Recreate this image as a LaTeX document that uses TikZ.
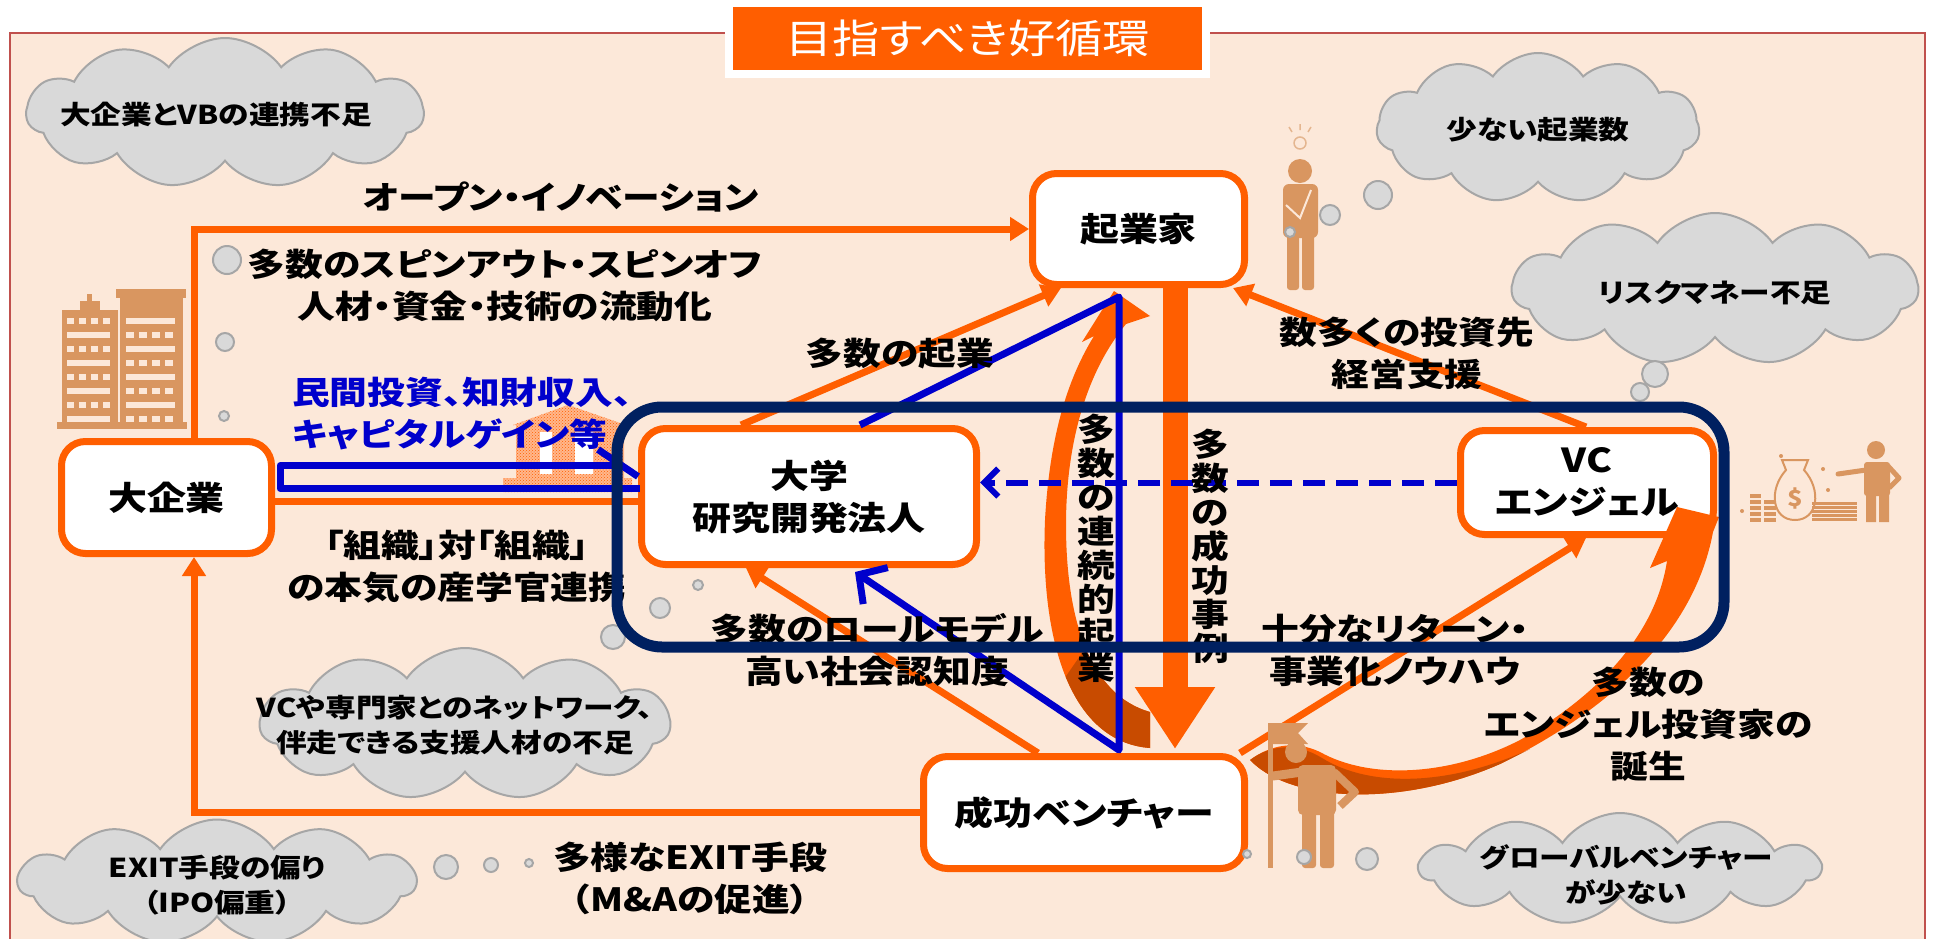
\documentclass[tikz,border=0pt]{standalone}
\usepackage{fontspec}
\setmainfont{Noto Sans CJK JP}[FakeStretch=1.18,RawFeature=+palt]
\usetikzlibrary{arrows.meta,calc,shapes.symbols,patterns}

\definecolor{peach}{RGB}{252,232,217}
\definecolor{framered}{RGB}{192,80,77}
\definecolor{vcorange}{RGB}{255,94,0}
\definecolor{arrowshade}{RGB}{200,75,0}
\definecolor{navyline}{RGB}{0,32,96}
\definecolor{linkblue}{RGB}{0,0,204}
\definecolor{icontan}{RGB}{217,150,96}
\definecolor{cloudfill}{RGB}{217,217,217}
\definecolor{cloudline}{RGB}{166,166,166}

\newcommand{\ttlfont}{\fontsize{40}{48}\selectfont}
\newcommand{\stgfont}{\bfseries\fontsize{33}{42}\selectfont}
\newcommand{\lblfont}{\bfseries\fontsize{32}{42}\selectfont}
\newcommand{\cldfont}{\bfseries\fontsize{26}{35}\selectfont}
\newcommand{\vrtfont}{\bfseries\fontsize{32}{34}\selectfont}

\tikzset{
	stagebox/.style={draw=vcorange, line width=7pt, fill=white, rounded corners=24pt, font=\stgfont, align=center, inner sep=0pt},
	labeltext/.style={font=\lblfont, align=center, inner sep=0pt},
	worrycloud/.style={cloud, cloud puffs=11, cloud puff arc=110, cloud ignores aspect, draw=cloudline, fill=cloudfill, line width=2pt, inner sep=0pt},
	worrytext/.style={font=\cldfont, align=center, inner sep=0pt},
	thoughtdot/.style={circle, draw=cloudline, fill=cloudfill, line width=2pt, inner sep=0pt},
	orangelink/.style={draw=vcorange, line width=7pt, -{Triangle[length=19pt,width=23pt]}},
	bluelink/.style={draw=linkblue, line width=7pt, line join=round},
}

\begin{document}
\begin{tikzpicture}[x=1pt, y=-1pt]
\useasboundingbox (0, 0) rectangle (1935, 938);
\fill [white] (0, 0) rectangle (1935, 938);
\filldraw [fill=peach, draw=framered, line width=2pt] (10, 33) rectangle (1925, 960);
\node [fill=vcorange, draw=white, line width=8pt, text=white, font=\ttlfont, minimum width=477, minimum height=71, inner sep=0pt] (TTL) at (967.5, 38.5) {目指すべき好循環};

\fill [icontan] (62, 310) rectangle (118, 427);
\fill [icontan] (80, 301) rectangle (100, 311);
\fill [icontan] (87, 294) rectangle (92, 302);
\fill [icontan] (120, 296) rectangle (183, 427);
\fill [icontan] (116, 289) rectangle (186, 298);
\fill [icontan] (57, 422) rectangle (187, 429);
\foreach \y in {318, 346, 374, 402} {
	\foreach \x in {67, 79, 91, 103} \fill [peach] (\x, \y) rectangle +(7, 6);
	\fill [peach] (67, \y + 14) rectangle +(43, 6);
	\foreach \x in {126, 139, 152, 165} \fill [peach] (\x, \y + 14) rectangle +(8, 6);
	\fill [peach] (126, \y) rectangle +(49, 6);
}

\fill [vcorange!45] (513, 425) -- (568, 405) -- (626, 425) -- cycle (516, 425) rectangle (624, 478) (503, 478) rectangle (632, 492);
\fill [pattern=crosshatch dots, pattern color=vcorange] (513, 425) -- (568, 405) -- (626, 425) -- cycle (516, 425) rectangle (624, 478) (503, 478) rectangle (632, 492);
\fill [white] (540, 432) rectangle (552, 474) (575, 432) rectangle (593, 474);

\draw [icontan!70, line width=1.5pt] (1300, 143) circle (6);
\draw [icontan!70, line width=1.5pt] (1292, 132) -- (1289, 127) (1300, 130) -- (1300, 124) (1308, 132) -- (1311, 127);
\fill [icontan] (1300, 171) circle (12);
\fill [icontan, rounded corners=6pt] (1283, 184) rectangle (1318, 238);
\fill [icontan, rounded corners=3pt] (1287, 232) rectangle (1299, 290);
\fill [icontan, rounded corners=3pt] (1302, 232) rectangle (1314, 290);
\draw [peach, line width=2pt] (1286, 205) -- (1300, 218) -- (1311, 190);

\foreach \y in {494, 500, ..., 518} \fill [icontan] (1750, \y) rectangle +(11, 4);
\foreach \y in {500, 506, ..., 518} \fill [icontan] (1764, \y) rectangle +(12, 4);
\draw [icontan, line width=2pt] (1786, 470) .. controls (1768, 490) and (1772, 520) .. (1795, 520) .. controls (1818, 520) and (1822, 490) .. (1804, 470) -- (1808, 460) -- (1782, 460) -- cycle;
\node [text=icontan, font=\bfseries\fontsize{22}{22}\selectfont, inner sep=0pt] (DOL) at (1795, 498) {\$};
\foreach \y in {502, 506, ..., 518} \fill [icontan] (1812, \y) rectangle +(45, 2.5);
\fill [icontan] (1876, 450) circle (9);
\fill [icontan, rounded corners=3pt] (1864, 462) rectangle (1890, 496);
\fill [icontan] (1866, 494) rectangle (1876, 522) (1879, 494) rectangle (1889, 522);
\draw [icontan, line width=5pt, line cap=round] (1866, 470) -- (1838, 474);
\draw [icontan, line width=5pt, line join=round] (1888, 466) -- (1899, 478) -- (1889, 488);
\foreach \p in {(1781, 456), (1823, 469), (1742, 511), (1828, 490)} \fill [icontan] \p circle (2);

\node [worrycloud, minimum width=397, minimum height=150] (W1) at (225, 113) {};
\node [worrytext] (T1) at (216, 115) {大企業とVBの連携不足};
\node [thoughtdot, minimum size=28] (W1a) at (227, 260) {};
\node [thoughtdot, minimum size=18] (W1b) at (225, 342) {};
\node [thoughtdot, minimum size=10] (W1c) at (224, 416) {};
\node [worrycloud, minimum width=323, minimum height=150] (W2) at (1538, 128) {};
\node [worrytext] (T2) at (1538, 130) {少ない起業数};
\node [thoughtdot, minimum size=28] (W2a) at (1378, 195) {};
\node [thoughtdot, minimum size=20] (W2b) at (1330, 215) {};
\node [thoughtdot, minimum size=10] (W2c) at (1290, 232) {};
\node [worrycloud, minimum width=406, minimum height=152] (W3) at (1715, 289) {};
\node [worrytext] (T3) at (1715, 293) {リスクマネー不足};
\node [thoughtdot, minimum size=26] (W3a) at (1655, 374) {};
\node [thoughtdot, minimum size=18] (W3b) at (1640, 392) {};
\node [worrycloud, minimum width=410, minimum height=152] (W4) at (465, 724) {};
\node [worrytext] (T4) at (455, 725) {VCや専門家とのネットワーク、\\伴走できる支援人材の不足};
\node [thoughtdot, minimum size=24] (W4a) at (613, 637) {};
\node [thoughtdot, minimum size=20] (W4b) at (660, 608) {};
\node [thoughtdot, minimum size=10] (W4c) at (698, 585) {};
\node [worrycloud, minimum width=397, minimum height=125] (W5) at (217, 882) {};
\node [worrytext] (T5) at (217, 885) {EXIT手段の偏り\\（IPO偏重）};
\node [thoughtdot, minimum size=24] (W5a) at (446, 867) {};
\node [thoughtdot, minimum size=14] (W5b) at (491, 865) {};
\node [thoughtdot, minimum size=8] (W5c) at (529, 863) {};

\node [stagebox, minimum width=210, minimum height=112] (ENT) at (166.5, 497.5) {大企業};
\node [stagebox, minimum width=212, minimum height=111] (FND) at (1138.5, 229) {起業家};
\node [stagebox, minimum width=335, minimum height=136] (UNI) at (809, 496.5) {大学\\研究開発法人};
\node [stagebox, minimum width=321, minimum height=112] (SUC) at (1084, 812.5) {成功ベンチャー};
\node [stagebox, minimum width=253, minimum height=104] (VC) at (1587, 482.5) {VC\\エンジェル};

\draw [orangelink] ($(ENT.north west)+(136, 0)$) |- (FND.west);
\draw [orangelink] ($(UNI.north west)+(103, 0)$) -- ($(FND.south west)+(32, 0)$);
\draw [orangelink] ($(VC.north west)+(129, 0)$) -- ($(FND.south east)+(-15, 0)$);
\draw [orangelink] ($(SUC.north west)+(118, 0)$) -- ($(UNI.south west)+(108, 0)$);
\draw [orangelink] ($(SUC.north east)+(-8, 0)$) -- ($(VC.south west)+(129, 0)$);
\draw [orangelink] (SUC.west) -| ($(ENT.south west)+(136, 0)$);
\draw [draw=vcorange, line width=7pt] ($(ENT.east)+(0, 4)$) -- ($(UNI.west)+(0, 5)$);

\fill [vcorange] (1150, 748) .. controls (1070, 742) and (1040, 640) .. (1045, 520) .. controls (1050, 430) and (1070, 375) .. (1094, 336) -- (1082, 342) -- (1114, 291) -- (1150, 316) -- (1126, 324) .. controls (1088, 370) and (1066, 440) .. (1066, 525) .. controls (1066, 620) and (1090, 695) .. (1150, 712) -- cycle;
\fill [arrowshade] (1150, 712) .. controls (1120, 703.5) and (1099, 680.5) .. (1085.5, 648) -- (1065.6, 676.75) .. controls (1082.5, 718) and (1110, 745) .. (1150, 748) -- cycle;
\draw [draw=vcorange, line width=25pt, -{Triangle[length=62pt,width=76pt]}] ($(FND.south west)+(146, 0)$) -- ($(SUC.north west)+(255, -4)$);

\fill [vcorange] (1250, 760) .. controls (1290, 802) and (1400, 808) .. (1500, 764) .. controls (1590, 720) and (1692, 645) .. (1713, 532) -- (1719, 517) -- (1677, 507) -- (1650, 568) -- (1667, 561) .. controls (1655, 640) and (1590, 700) .. (1520, 740) .. controls (1450, 776) and (1370, 780) .. (1320, 752) .. controls (1295, 740) and (1270, 745) .. (1250, 760) -- cycle;
\fill [arrowshade] (1250, 760) .. controls (1290, 802) and (1400, 808) .. (1500, 764) -- (1530, 749) .. controls (1450, 786) and (1370, 788) .. (1322, 758) .. controls (1296, 742) and (1270, 745) .. (1250, 760) -- cycle;

\fill [icontan] (1268, 723) rectangle (1273, 868);
\fill [icontan] (1273, 723) -- (1308, 723) -- (1298, 733) -- (1308, 744) -- (1273, 744) -- cycle;
\fill [icontan] (1296, 752) circle (11);
\fill [icontan, rounded corners=5pt] (1298, 765) rectangle (1336, 815);
\draw [icontan, line width=9pt, line cap=round] (1302, 772) -- (1273, 776);
\draw [icontan, line width=8pt, line join=round] (1334, 772) -- (1355, 792) -- (1340, 806);
\fill [icontan, rounded corners=3pt] (1302, 810) rectangle (1316, 868);
\fill [icontan, rounded corners=3pt] (1320, 810) rectangle (1334, 868);

\node [worrycloud, minimum width=400, minimum height=112] (W6) at (1620, 869) {};
\node [worrytext] (T6) at (1626, 875) {グローバルベンチャー\\が少ない};
\node [thoughtdot, minimum size=22] (W6a) at (1367, 859) {};
\node [thoughtdot, minimum size=14] (W6b) at (1304, 857) {};
\node [thoughtdot, minimum size=8] (W6c) at (1247, 854) {};

\coordinate (APX) at (1119, 297);
\coordinate (BOT) at (1119, 750);
\draw [bluelink, -{Straight Barb[length=20pt,width=44pt]}] ($(UNI.north west)+(222, 0)$) -- (APX) -- (BOT) -- ($(UNI.south west)+(217, 4)$);
\draw [bluelink, line width=6pt, dash pattern=on 22pt off 11pt, -{Straight Barb[length=14pt,width=28pt]}] (VC.west) -- (VC.west -| UNI.east);
\draw [bluelink] ($(UNI.west)+(-15, -31)$) -- ($(ENT.east)+(5, -32)$) -- ($(ENT.east)+(5, -9)$) -- ($(UNI.west)+(2, -8)$);
\draw [bluelink] ($(UNI.west)+(-40, -47)$) -- ($(UNI.west)+(0, -20)$);

\node [labeltext] (OI) at (561, 197) {オープン・イノベーション};
\node [labeltext] (SPN) at (505, 285) {多数のスピンアウト・スピンオフ\\人材・資金・技術の流動化};
\node [labeltext, text=linkblue, align=left, anchor=west] (INC) at (292, 414) {民間投資、知財収入、\\キャピタルゲイン等};
\node [labeltext] (ORG) at (457, 567) {「組織」対「組織」\\の本気の産学官連携};
\node [labeltext] (NEW) at (900, 354) {多数の起業};
\node [labeltext] (ROL) at (877, 650) {多数のロールモデル\\高い社会認知度};
\node [labeltext] (INV) at (1407, 353) {数多くの投資先\\経営支援};
\node [labeltext] (RET) at (1395, 650) {十分なリターン・\\事業化ノウハウ};
\node [labeltext] (ANG) at (1648, 724) {多数の\\エンジェル投資家の\\誕生};
\node [labeltext] (EXT) at (690, 878) {多様なEXIT手段\\（M\&Aの促進）};
\node [labeltext, font=\vrtfont] (SER) at (1096, 548) {多\\数\\の\\連\\続\\的\\起\\業};
\node [labeltext, font=\vrtfont] (SCS) at (1210, 546) {多\\数\\の\\成\\功\\事\\例};

\draw [navyline, line width=11pt, rounded corners=45pt] (617, 407) rectangle (1724, 647);
\end{tikzpicture}
\end{document}
